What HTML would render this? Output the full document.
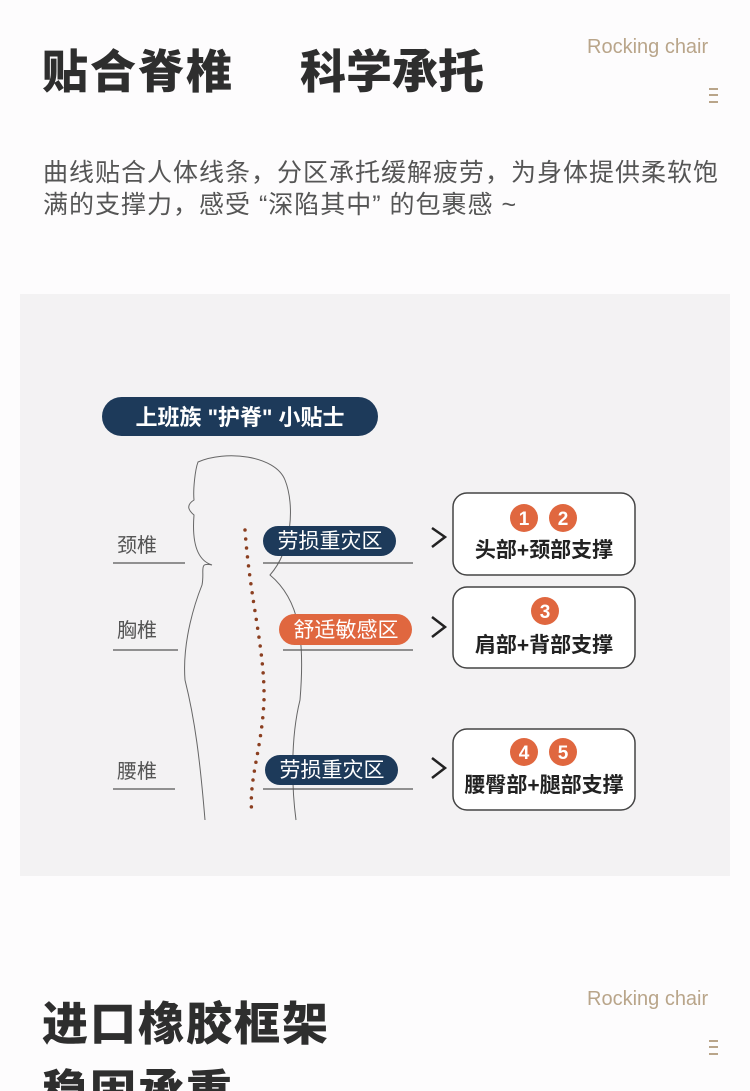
<!DOCTYPE html>
<html style="height:1091px;overflow:hidden"><head><meta charset="utf-8"><style>
body{margin:0;width:750px;height:1091px;background:#fdfcfd;position:relative;overflow:hidden;font-family:"Liberation Sans","Noto Sans CJK SC",sans-serif}
.a{position:absolute;white-space:nowrap}
.t{font-size:46px;font-weight:900;color:#2e2e2e;letter-spacing:2px}
.rc{font-size:20px;color:#b9a58a;font-family:"Liberation Sans",sans-serif}
.p{font-size:25px;color:#555;letter-spacing:1px}
</style></head><body>
<div class="a t" style="left:42px;top:36px">贴合脊椎</div>
<div class="a t" style="left:300px;top:36px;letter-spacing:0">科学承托</div>
<div class="a rc" style="left:587px;top:36px">Rocking chair</div>
<div class="a" style="left:709px;top:88px;width:9px;height:15px;border-top:2px solid #b9a58a;border-bottom:2px solid #b9a58a;box-sizing:border-box"><div style="margin-top:4px;border-top:2px solid #b9a58a"></div></div>
<div class="a p" style="left:43px;top:153px">曲线贴合人体线条，分区承托缓解疲劳，为身体提供柔软饱</div>
<div class="a p" style="left:43px;top:185px">满的支撑力，感受 “深陷其中” 的包裹感 ~</div>

<div class="a" style="left:20px;top:294px;width:710px;height:582px;background:#f3f2f3"></div>
<svg class="a" style="left:0;top:0" width="750" height="1091">
<path d="M205 820 C200 760 195 720 185 680 C182 640 196 600 202 585 C205 570 198 562 212 565 C196 560 192 540 194 515 C188 510 186 505 194 500 C193 490 195 470 198 462 C225 450 275 455 285 480 C295 505 292 550 270 575 C300 600 305 640 300 700 C290 740 292 790 296 820" fill="none" stroke="#666" stroke-width="1"/>
<path d="M245 530 C250 600 265 650 264 700 C262 750 248 780 252 815" fill="none" stroke="#8b3f20" stroke-width="3.5" stroke-linecap="round" stroke-dasharray="0 9"/>
<g stroke="#555" stroke-width="1.2">
<line x1="113" y1="563" x2="185" y2="563"/><line x1="263" y1="563" x2="413" y2="563"/>
<line x1="113" y1="650" x2="178" y2="650"/><line x1="283" y1="650" x2="413" y2="650"/>
<line x1="113" y1="789" x2="175" y2="789"/><line x1="263" y1="789" x2="413" y2="789"/>
</g>
<g fill="none" stroke="#222" stroke-width="2.5">
<path d="M432 528 L445 537 L432 547"/><path d="M432 617 L445 627 L432 637"/><path d="M432 758 L445 768 L432 778"/>
</g>
<g fill="#fff" stroke="#444" stroke-width="1.5">
<rect x="453" y="493" width="182" height="82" rx="14"/>
<rect x="453" y="587" width="182" height="81" rx="14"/>
<rect x="453" y="729" width="182" height="81" rx="14"/>
</g>
<g fill="#e0673f"><circle cx="524" cy="518" r="14"/><circle cx="563" cy="518" r="14"/><circle cx="545" cy="611" r="14"/><circle cx="524" cy="752" r="14"/><circle cx="563" cy="752" r="14"/></g>
<g fill="#fff" font-size="19" font-weight="bold" text-anchor="middle" font-family="Liberation Sans,sans-serif">
<text x="524" y="525">1</text><text x="563" y="525">2</text><text x="545" y="618">3</text><text x="524" y="759">4</text><text x="563" y="759">5</text></g>
<g fill="#222" font-size="21" font-weight="bold" text-anchor="middle" font-family="Liberation Sans,Noto Sans CJK SC,sans-serif">
<text x="544" y="557">头部+颈部支撑</text><text x="544" y="652">肩部+背部支撑</text><text x="544" y="792">腰臀部+腿部支撑</text></g>
<g fill="#555" font-size="20" font-family="Liberation Sans,Noto Sans CJK SC,sans-serif">
<text x="117" y="552">颈椎</text><text x="117" y="637">胸椎</text><text x="117" y="778">腰椎</text></g>
<rect x="102" y="397" width="276" height="39" rx="19.5" fill="#1d3a5a"/>
<text x="240" y="425" text-anchor="middle" fill="#fff" font-size="22" font-weight="bold" font-family="Liberation Sans,Noto Sans CJK SC,sans-serif">上班族 "护脊" 小贴士</text>
<rect x="263" y="526" width="133" height="30" rx="15" fill="#1d3a5a"/>
<rect x="279" y="614" width="133" height="31" rx="15.5" fill="#e0673f"/>
<rect x="265" y="755" width="133" height="30" rx="15" fill="#1d3a5a"/>
<g fill="#fff" font-size="21" text-anchor="middle" font-family="Liberation Sans,Noto Sans CJK SC,sans-serif">
<text x="330" y="548">劳损重灾区</text><text x="346" y="637">舒适敏感区</text><text x="332" y="777">劳损重灾区</text></g>
</svg>

<div class="a t" style="left:42px;top:988px">进口橡胶框架</div>
<div class="a t" style="left:42px;top:1056px">稳固承重</div>
<div class="a rc" style="left:587px;top:988px">Rocking chair</div>
<div class="a" style="left:709px;top:1040px;width:9px;height:15px;border-top:2px solid #b9a58a;border-bottom:2px solid #b9a58a;box-sizing:border-box"><div style="margin-top:4px;border-top:2px solid #b9a58a"></div></div>
</body></html>
